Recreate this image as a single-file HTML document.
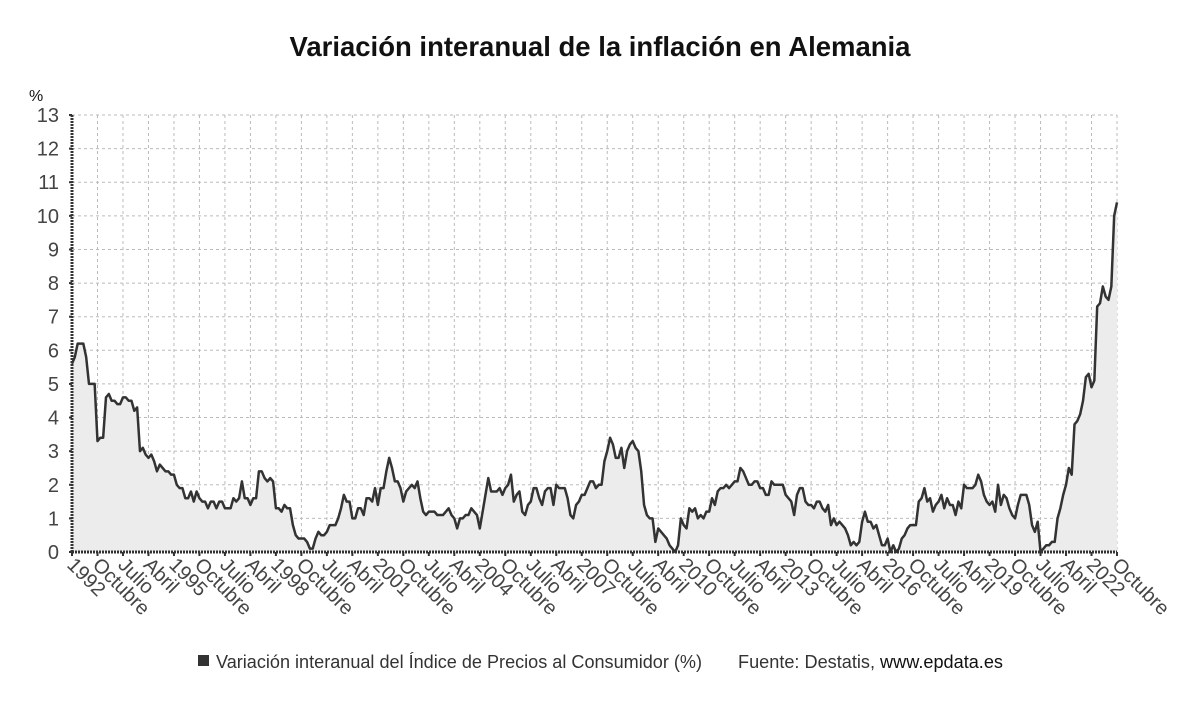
<!DOCTYPE html>
<html><head><meta charset="utf-8"><style>
html,body{margin:0;padding:0;background:#fff;}
body{width:1200px;height:705px;overflow:hidden;font-family:"Liberation Sans",sans-serif;}
</style></head><body>
<svg id="chart" width="1200" height="705" xmlns="http://www.w3.org/2000/svg" font-family="Liberation Sans, sans-serif">
<text x="600" y="56" text-anchor="middle" font-size="27.5" font-weight="bold" fill="#111">Variación interanual de la inflación en Alemania</text>
<text x="29" y="101" font-size="16" fill="#111">%</text>
<g id="grid"></g>
<g id="plot"></g>
<g id="axes"></g>
<g>
<rect x="198" y="655" width="11" height="11" fill="#333"/>
<text x="216" y="668" font-size="18" fill="#333" textLength="486" lengthAdjust="spacingAndGlyphs">Variación interanual del Índice de Precios al Consumidor (%)</text>
<text x="738" y="668" font-size="18" fill="#333" textLength="265" lengthAdjust="spacingAndGlyphs">Fuente: Destatis, <tspan fill="#111">www.epdata.es</tspan></text>
</g>
</svg>
<script>
const y1992=[5.6,5.8,6.2,6.2,6.2,5.8,5.0,5.0,5.0,3.3,3.4,3.4];
const y1993=[4.6,4.7,4.5,4.5,4.4,4.4,4.6,4.6,4.5,4.5,4.2,4.3];
const y1994=[3.0,3.1,2.9,2.8,2.9,2.7,2.4,2.6,2.5,2.4,2.4,2.3];
const y1995=[2.3,2.0,1.9,1.9,1.6,1.6,1.8,1.5,1.8,1.6,1.5,1.5];
const y1996=[1.3,1.5,1.5,1.3,1.5,1.5,1.3,1.3,1.3,1.6,1.5,1.6];
const y1997=[2.1,1.6,1.6,1.4,1.6,1.6,2.4,2.4,2.2,2.1,2.2,2.1];
const y1998=[1.3,1.3,1.2,1.4,1.3,1.3,0.8,0.5,0.4,0.4,0.4,0.3];
const y1999=[0.1,0.1,0.4,0.6,0.5,0.5,0.6,0.8,0.8,0.8,1.0,1.3];
const y2000=[1.7,1.5,1.5,1.0,1.0,1.3,1.3,1.1,1.6,1.6,1.5,1.9];
const y2001=[1.4,1.9,1.9,2.4,2.8,2.5,2.1,2.1,1.9,1.5,1.8,1.9];
const y2002=[2.0,1.9,2.1,1.6,1.2,1.1,1.2,1.2,1.2,1.1,1.1,1.1];
const y2003=[1.2,1.3,1.1,1.0,0.7,1.0,1.0,1.1,1.1,1.3,1.2,1.1];
const y2004=[0.7,1.2,1.7,2.2,1.8,1.8,1.8,1.9,1.7,1.9,2.0,2.3];
const y2005=[1.5,1.7,1.8,1.2,1.1,1.4,1.5,1.9,1.9,1.6,1.4,1.8];
const y2006=[1.9,1.9,1.4,2.0,1.9,1.9,1.9,1.6,1.1,1.0,1.4,1.5];
const y2007=[1.7,1.7,1.9,2.1,2.1,1.9,2.0,2.0,2.7,3.0,3.4,3.2];
const y2008=[2.8,2.8,3.1,2.5,3.0,3.2,3.3,3.1,3.0,2.4,1.4,1.1];
const y2009=[1.0,1.0,0.3,0.7,0.6,0.5,0.4,0.2,0.1,0.0,0.2,1.0];
const y2010=[0.8,0.7,1.3,1.2,1.3,1.0,1.1,1.0,1.2,1.2,1.6,1.4];
const y2011=[1.8,1.9,1.9,2.0,1.9,2.0,2.1,2.1,2.5,2.4,2.2,2.0];
const y2012=[2.0,2.1,2.1,1.9,1.9,1.7,1.7,2.1,2.0,2.0,2.0,2.0];
const y2013=[1.7,1.6,1.5,1.1,1.7,1.9,1.9,1.5,1.4,1.4,1.3,1.5];
const y2014=[1.5,1.3,1.2,1.4,0.8,1.0,0.8,0.9,0.8,0.7,0.5,0.2];
const y2015=[0.3,0.2,0.3,0.9,1.2,0.9,0.9,0.7,0.8,0.5,0.2,0.2];
const y2016=[0.4,0.0,0.2,0.0,0.1,0.4,0.5,0.7,0.8,0.8,0.8,1.5];
const y2017=[1.6,1.9,1.5,1.6,1.2,1.4,1.5,1.7,1.3,1.6,1.4,1.4];
const y2018=[1.1,1.5,1.3,2.0,1.9,1.9,1.9,2.0,2.3,2.1,1.7,1.5];
const y2019=[1.4,1.5,1.2,2.0,1.4,1.7,1.6,1.3,1.1,1.0,1.4,1.7];
const y2020=[1.7,1.7,1.4,0.8,0.6,0.9,0.0,0.1,0.2,0.2,0.3,0.3];
const y2021=[1.0,1.3,1.7,2.0,2.5,2.3,3.8,3.9,4.1,4.5,5.2,5.3];
const y2022=[4.9,5.1,7.3,7.4,7.9,7.6,7.5,7.9,10.0,10.4];
const startYear=1992;
const monthNames=["Enero","Febrero","Marzo","Abril","Mayo","Junio","Julio","Agosto","Septiembre","Octubre","Noviembre","Diciembre"];
const yTicks=[0,1,2,3,4,5,6,7,8,9,10,11,12,13];
const tickEvery=9;

const values=[].concat(y1992,y1993,y1994,y1995,y1996,y1997,y1998,y1999,y2000,y2001,y2002,y2003,y2004,y2005,y2006,y2007,y2008,y2009,y2010,y2011,y2012,y2013,y2014,y2015,y2016,y2017,y2018,y2019,y2020,y2021,y2022);
const NS="http://www.w3.org/2000/svg";
const X0=72,X1=1117,Y0=552,Y1=115,YMAX=13;
const n=values.length;
const xs=i=>X0+(X1-X0)*i/(n-1);
const ys=v=>Y0-(Y0-Y1)*v/YMAX;
function mk(tag,attrs,parent){const e=document.createElementNS(NS,tag);for(const k in attrs)e.setAttribute(k,attrs[k]);parent.appendChild(e);return e;}
const grid=document.getElementById('grid'),plot=document.getElementById('plot'),axes=document.getElementById('axes');
yTicks.forEach(t=>{
  if(t>0){const l=mk('line',{x1:X0,x2:X1,y1:ys(t),y2:ys(t),stroke:'#bbb','stroke-width':1,'stroke-dasharray':'3,3'},grid);
  
  }
  const tk=mk('line',{x1:X0-3,x2:X0,y1:ys(t),y2:ys(t),stroke:'#333','stroke-width':2},axes);
  
  
  const tx=mk('text',{x:59,y:ys(t)+7,'text-anchor':'end','font-size':20,fill:'#444'},axes);
  tx.textContent=t;
  
  
});
for(let i=0;i<n;i+=tickEvery){
  const x=xs(i);
  if(i>0){const g=mk('line',{x1:x,x2:x,y1:Y1,y2:Y0,stroke:'#bbb','stroke-width':1,'stroke-dasharray':'3,3'},grid);
  
  }
  const tk=mk('line',{x1:x,x2:x,y1:Y0,y2:Y0+4,stroke:'#333','stroke-width':2},axes);
  
  
  const m=i%12;
  const lab=m===0?String(startYear+i/12):monthNames[m];
  const tx=mk('text',{x:x-6,y:Y0+14,'font-size':20,fill:'#444',transform:`rotate(45 ${x-6} ${Y0+14})`},axes);
  tx.textContent=lab;
  
  
}
let d='';
values.forEach((v,i)=>{d+=(i?'L':'M')+xs(i).toFixed(2)+','+ys(v).toFixed(2);});
const area=mk('path',{d:d+`L${xs(n-1)},${Y0}L${X0},${Y0}Z`,fill:'#ececec',stroke:'none'},plot);


const line=mk('path',{d:d,fill:'none',stroke:'#333','stroke-width':2.5,'stroke-linejoin':'round'},plot);


const ya=mk('line',{x1:X0,x2:X0,y1:Y1,y2:Y0,stroke:'#333','stroke-width':3,'stroke-dasharray':'2,1'},axes);


const xa=mk('line',{x1:X0,x2:X1,y1:Y0,y2:Y0,stroke:'#333','stroke-width':3,'stroke-dasharray':'2,1'},axes);


</script>
</body></html>
